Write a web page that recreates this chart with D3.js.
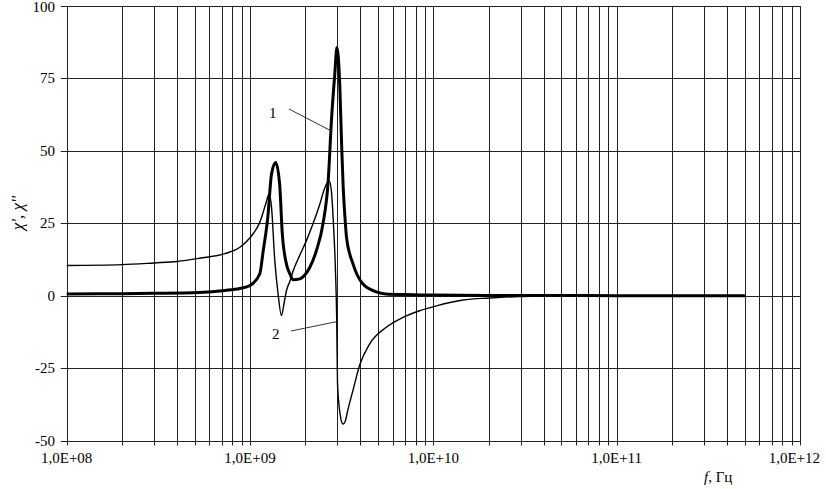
<!DOCTYPE html>
<html><head><meta charset="utf-8">
<script src="https://cdn.jsdelivr.net/npm/d3@7"></script>
<style>
html,body{margin:0;padding:0;background:#fff;}
text{font-family:"Liberation Serif","Times New Roman",serif;fill:#000;}
</style></head>
<body><svg id="c" width="826" height="489"></svg>
<script>
// Curve 1 (thick): chi'' — frequency (Hz) and value
const freq1 = [1e8,2e8,3e8,5.3e8,7.3e8,8.8e8,1e9,1.13e9,1.18e9,1.25e9,1.31e9,1.38e9,1.45e9,1.5e9,1.58e9,1.65e9,1.72e9,1.87e9,2.0e9,2.12e9,2.3e9,2.5e9,2.67e9,2.78e9,2.9e9,2.98e9,3.09e9,3.16e9,3.22e9,3.28e9,3.36e9,3.65e9,4.13e9,4.89e9,5.5e9,7e9,1e10,2e10,5e10,1e11,5e11];
const chi1  = [0.6,0.7,0.8,1.1,1.8,2.5,3.5,7.5,15.5,27,42,46,38.6,21.3,10.9,7.5,5.5,5.8,7.3,9.8,15.5,24.8,39.7,60.4,76.6,85.7,71.9,52,38,29,20.1,10.9,4.0,1.3,0.6,0.4,0.2,0.1,0.05,0,0];
// Curve 2 (thin): chi'
const freq2 = [1e8,2e8,3e8,4e8,5.3e8,7.3e8,8.8e8,1e9,1.13e9,1.22e9,1.27e9,1.31e9,1.365e9,1.42e9,1.485e9,1.53e9,1.58e9,1.65e9,1.72e9,1.87e9,2.03e9,2.21e9,2.4e9,2.55e9,2.7e9,2.78e9,2.85e9,2.92e9,2.97e9,3.0e9,3.06e9,3.13e9,3.22e9,3.3e9,3.43e9,3.65e9,3.96e9,4.49e9,5.54e9,6.83e9,8.41e9,1.04e10,1.45e10,2.03e10,2.95e10,5e10,1e11,5e11];
const chi2  = [10.4,10.7,11.3,11.8,12.9,14.5,16.7,20,25.3,31.8,35.1,30.5,12,1,-6.9,-3,1.7,5,8.6,14,19,25,31.5,37,39.7,36,25,10,-8,-30,-38,-42.5,-44.3,-43.5,-39,-32.5,-24,-16.7,-10.9,-7.5,-5.2,-3.5,-1.5,-0.8,-0.3,-0.1,0,0];
const xDecades = [1e8,1e9,1e10,1e11,1e12];
const xTickLabels = ["1,0E+08","1,0E+09","1,0E+10","1,0E+11","1,0E+12"];
const yTicks = [-50,-25,0,25,50,75,100];
const yTitle = "\u03C7', \u03C7''";
const xTitleItalic = "f";
const xTitleRest = ", \u0413\u0446";
const annot = [{t:"1", f:3e9, v:57}, {t:"2", f:2.99e9, v:-9}];

const svg = d3.select("#c");
const x = d3.scaleLog().domain([1e8,1e12]).range([66.7,800]);
const y = d3.scaleLinear().domain([-50,100]).range([440.5,6]);

// vertical grid
const minor = [];
for (let e=8;e<12;e++) for (let m=1;m<=9;m++) minor.push(m*Math.pow(10,e));
minor.push(1e12);
svg.append("g").selectAll("line").data(minor).join("line")
  .attr("x1",d=>Math.round(x(d))+0.5).attr("x2",d=>Math.round(x(d))+0.5)
  .attr("y1",y(100)).attr("y2",y(-50)+5)
  .attr("stroke","#222").attr("stroke-width",1);
// horizontal grid
svg.append("g").selectAll("line").data(yTicks).join("line")
  .attr("x1",x(1e8)-6).attr("x2",x(1e12))
  .attr("y1",d=>Math.round(y(d))+0.5).attr("y2",d=>Math.round(y(d))+0.5)
  .attr("stroke","#222").attr("stroke-width",1);

// y labels
svg.append("g").selectAll("text").data(yTicks).join("text")
  .attr("x",55).attr("y",d=>y(d)+5).attr("dy",d=>d===100?1:0).attr("text-anchor","end")
  .attr("font-size",15).text(d=>d);
// x labels
svg.append("g").selectAll("text").data(xDecades).join("text")
  .attr("x",(d,i)=> i===xDecades.length-1 ? 820 : x(d))
  .attr("y",463)
  .attr("text-anchor",(d,i)=> i===xDecades.length-1 ? "end" : "middle")
  .attr("font-size",15).text((d,i)=>xTickLabels[i]);

// axis titles
svg.append("text").attr("transform","translate(23,213) rotate(-90)")
  .attr("text-anchor","middle").attr("font-size",17).attr("font-style","italic")
  .text(yTitle);
const xt = svg.append("text").attr("x",704).attr("y",482).attr("font-size",15);
xt.append("tspan").attr("font-style","italic").text(xTitleItalic);
xt.append("tspan").text(xTitleRest);

// curves
const line = d3.line().x(d=>x(d[0])).y(d=>y(d[1])).curve(d3.curveMonotoneX);
svg.append("path").datum(freq2.map((f,i)=>[f,chi2[i]]))
  .attr("d",line).attr("fill","none").attr("stroke","#000").attr("stroke-width",1.4);
svg.append("path").datum(freq1.map((f,i)=>[f,chi1[i]]))
  .attr("d",line).attr("fill","none").attr("stroke","#000").attr("stroke-width",3);

// annotations
svg.append("text").attr("x",269).attr("y",118).attr("font-size",15).text(annot[0].t);
svg.append("line").attr("x1",289).attr("y1",109).attr("x2",x(annot[0].f)-7).attr("y2",y(annot[0].v))
  .attr("stroke","#333").attr("stroke-width",1);
svg.append("text").attr("x",272).attr("y",339).attr("font-size",15).text(annot[1].t);
svg.append("line").attr("x1",291).attr("y1",331).attr("x2",x(annot[1].f)-1).attr("y2",y(annot[1].v))
  .attr("stroke","#333").attr("stroke-width",1);
</script></body></html>
